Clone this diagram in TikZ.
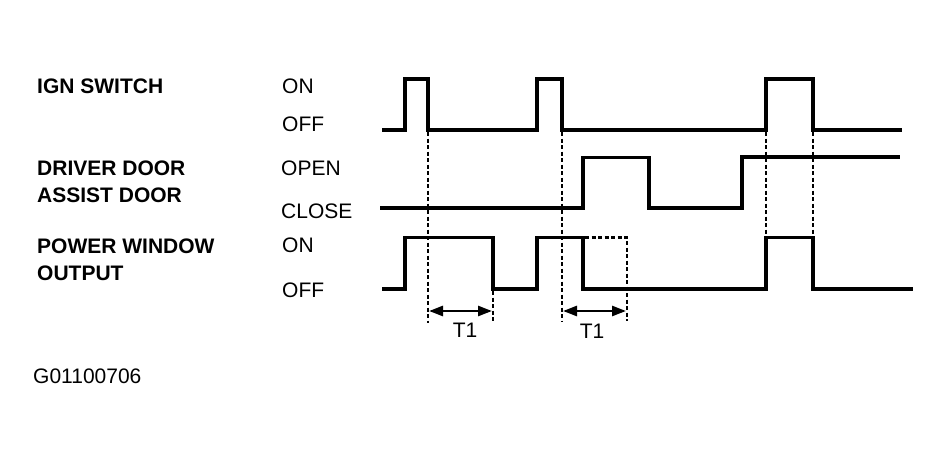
\documentclass[tikz,border=0pt]{standalone}
\usepackage{fontspec}
\setmainfont{Liberation Sans}
\usetikzlibrary{arrows.meta}
\begin{document}
\begin{tikzpicture}[x=1pt,y=-1pt,
  wave/.style={line width=3.2pt,line join=miter,line cap=butt},
  guide/.style={line width=2.8pt,dash pattern=on 4pt off 2.5pt},
  dimarrow/.style={line width=2.6pt,{Triangle[length=14pt,width=10pt]}-{Triangle[length=14pt,width=10pt]}},
  sig/.style={font=\bfseries\fontsize{21}{24}\selectfont,anchor=base west,inner sep=0pt},
  lvl/.style={font=\fontsize{21}{24}\selectfont,anchor=base west,inner sep=0pt},
  tlab/.style={font=\fontsize{21}{24}\selectfont,anchor=base,inner sep=0pt}]
\useasboundingbox (0,0) rectangle (951,460);
% labels
\node[sig] (ign) at (37,93) {IGN SWITCH};
\node[sig] (drv) at (37,175) {DRIVER DOOR};
\node[sig] (ast) at (37,202) {ASSIST DOOR};
\node[sig] (pw) at (37,253) {POWER WINDOW};
\node[sig] (out) at (37,280) {OUTPUT};
\node[lvl] (ion) at (282,93) {ON};
\node[lvl] (ioff) at (282,131) {OFF};
\node[lvl] (dop) at (281,175) {OPEN};
\node[lvl] (dcl) at (281,218) {CLOSE};
\node[lvl] (pon) at (282,252) {ON};
\node[lvl] (poff) at (282,297) {OFF};
\node[lvl] (code) at (33,383) {G01100706};
% waveforms
\draw[wave] (382,130) -- (405,130) -- (405,79) -- (428,79) -- (428,130) -- (537,130) -- (537,79) -- (562,79) -- (562,130) -- (766,130) -- (766,79) -- (813,79) -- (813,130) -- (902,130);
\draw[wave] (380,208) -- (583,208) -- (583,157.5) -- (649,157.5) -- (649,208) -- (742,208) -- (742,157) -- (900,157);
\draw[wave] (382,289) -- (405,289) -- (405,237.5) -- (493,237.5) -- (493,289) -- (537,289) -- (537,237.5) -- (583,237.5) -- (583,289) -- (766,289) -- (766,237.5) -- (813,237.5) -- (813,289) -- (913,289);
% guides
\coordinate (a1) at (429,311);
\coordinate (a2) at (492,311);
\coordinate (b1) at (563,311);
\coordinate (b2) at (626,311);
\draw[guide] (428,132) -- (428,323);
\draw[guide] (493,291) -- (493,321);
\draw[guide] (562,132) -- (562,322);
\draw[guide] (585,237.5) -- (627,237.5) -- (627,321);
\draw[guide] (766,132) -- (766,236);
\draw[guide] (813,132) -- (813,236);
% T1 arrows
\draw[dimarrow] (a1) -- (a2);
\draw[dimarrow] (b1) -- (b2);
\node[tlab] (t1a) at (465,337) {T1};
\node[tlab] (t1b) at (592,338) {T1};
\end{tikzpicture}
\end{document}
